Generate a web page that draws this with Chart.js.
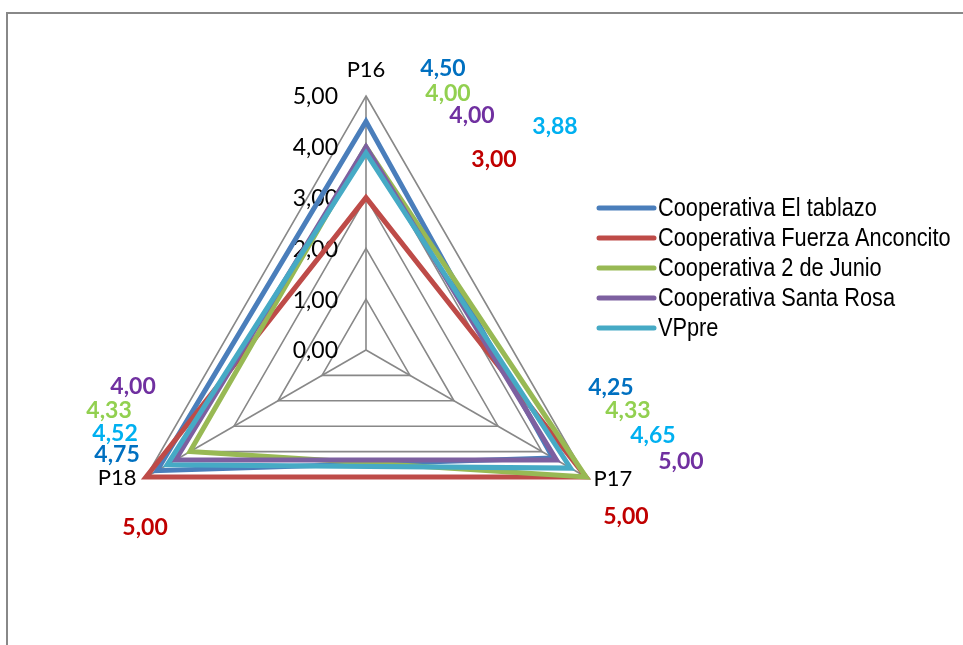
<!DOCTYPE html>
<html><head><meta charset="utf-8">
<script src="https://cdn.jsdelivr.net/npm/chart.js@4/dist/chart.umd.min.js"></script>
<style>
html,body{margin:0;padding:0;background:#fff;width:963px;height:645px;overflow:hidden}
#frame{position:absolute;left:6px;top:12px;width:1000px;height:700px;border-left:2px solid #888;border-top:2px solid #888}
#wrap{position:absolute;left:0;top:0;width:963px;height:645px}
</style></head><body>
<div id="frame"></div>
<div id="wrap"><canvas id="c" width="963" height="645"></canvas></div>
<script>
// ---- data ----
const categories = ['P16', 'P17', 'P18'];
const seriesNames = ['Cooperativa El tablazo', 'Cooperativa Fuerza Anconcito', 'Cooperativa 2 de Junio', 'Cooperativa Santa Rosa', 'VPpre'];
const elTablazo       = [4.50, 4.25, 4.75];
const fuerzaAnconcito = [3.00, 5.00, 5.00];
const dosDeJunio      = [4.00, 5.00, 4.00];
const santaRosa       = [4.00, 4.33, 4.33];
const vpPre           = [3.88, 4.65, 4.52];
const tickValues = [0, 1, 2, 3, 4, 5];
const tickLabels = ['0,00', '1,00', '2,00', '3,00', '4,00', '5,00'];
// data labels as printed on the chart (per series, per category)
const printedTablazo  = ['4,50', '4,25', '4,75'];
const printedFuerza   = ['3,00', '5,00', '5,00'];
const printedJunio    = ['4,00', '4,33', '4,33'];
const printedSantaRosa= ['4,00', '5,00', '4,00'];
const printedVPpre    = ['3,88', '4,65', '4,52'];

// ---- styles ----
const lineColors  = ['#4A7EBB', '#BE4B48', '#98B954', '#7D60A0', '#46AAC5'];
const labelColors = ['#0070C0', '#C00000', '#92D050', '#7030A0', '#00B0F0'];
const seriesData = [elTablazo, fuerzaAnconcito, dosDeJunio, santaRosa, vpPre];
const printed = [printedTablazo, printedFuerza, printedJunio, printedSantaRosa, printedVPpre];
// label offsets relative to the outer (max) point of each axis: [category][series] -> [dx,dy]
const labelOffsets = [
  [[77,-27],[128,64],[82,-2],[106,20],[189,31]],
  [[25,-89],[40,40],[42,-66],[95,-15],[67,-41]],
  [[-29,-22],[-1,51],[-37,-66],[-13,-90],[-31,-43]]
];
const pointLabelOffsets = [[0,-26],[27,2],[-29,1]];

const overlay = {
  id: 'overlay',
  beforeDatasetsDraw(chart) {
    const ctx = chart.ctx, r = chart.scales.r;
    ctx.save();
    ctx.font = '23px Lato, "Liberation Sans", sans-serif';
    ctx.fillStyle = '#000';
    ctx.textAlign = 'right';
    ctx.textBaseline = 'middle';
    tickValues.forEach((v, i) => {
      const p = r.getPointPositionForValue(0, v);
      ctx.fillText(tickLabels[i], p.x - 28, p.y + 1);
    });
    ctx.restore();
  },
  afterDatasetsDraw(chart) {
    const ctx = chart.ctx, r = chart.scales.r;
    ctx.save();
    ctx.textBaseline = 'middle';
    ctx.textAlign = 'center';
    ctx.font = '22px Lato, "Liberation Sans", sans-serif';
    ctx.fillStyle = '#000';
    categories.forEach((c, i) => {
      const p = r.getPointPositionForValue(i, r.max);
      ctx.fillText(c, p.x + pointLabelOffsets[i][0], p.y + pointLabelOffsets[i][1]);
    });
    ctx.font = 'bold 23px Lato, "Liberation Sans", sans-serif';
    categories.forEach((c, i) => {
      const p = r.getPointPositionForValue(i, r.max);
      printed.forEach((arr, s) => {
        ctx.fillStyle = labelColors[s];
        ctx.fillText(arr[i], p.x + labelOffsets[i][s][0], p.y + labelOffsets[i][s][1]);
      });
    });
    // legend
    const lx0 = 599, lx1 = 654, tx = 658, y0 = 208, dy = 30;
    seriesNames.forEach((n, s) => {
      const y = y0 + s * dy;
      ctx.strokeStyle = lineColors[s];
      ctx.lineWidth = 5;
      ctx.lineCap = 'round';
      ctx.beginPath(); ctx.moveTo(lx0, y); ctx.lineTo(lx1, y); ctx.stroke();
      ctx.save();
      ctx.translate(tx, y + 1);
      ctx.scale(0.87, 1);
      ctx.font = '25px "Liberation Sans", Arial, sans-serif';
      ctx.fillStyle = '#000';
      ctx.textAlign = 'left';
      ctx.fillText(n, 0, 0);
      ctx.restore();
    });
    ctx.restore();
  }
};

new Chart(document.getElementById('c'), {
  type: 'radar',
  data: {
    labels: categories,
    datasets: seriesData.map((d, i) => ({
      label: seriesNames[i],
      data: d,
      borderColor: lineColors[i],
      backgroundColor: lineColors[i],
      borderWidth: 5,
      pointRadius: 0,
      fill: false,
      tension: 0,
      order: 4 - i
    }))
  },
  options: {
    responsive: false,
    animation: false,
    layout: { padding: { left: 112, right: 343, top: 96, bottom: 41 } },
    plugins: { legend: { display: false }, tooltip: { enabled: false } },
    scales: {
      r: {
        min: 0, max: 5,
        ticks: { display: false, stepSize: 1 },
        pointLabels: { display: false },
        grid: { color: '#888', lineWidth: 1.6 },
        angleLines: { color: '#888', lineWidth: 1.6 }
      }
    }
  },
  plugins: [overlay]
});
</script>
</body></html>
